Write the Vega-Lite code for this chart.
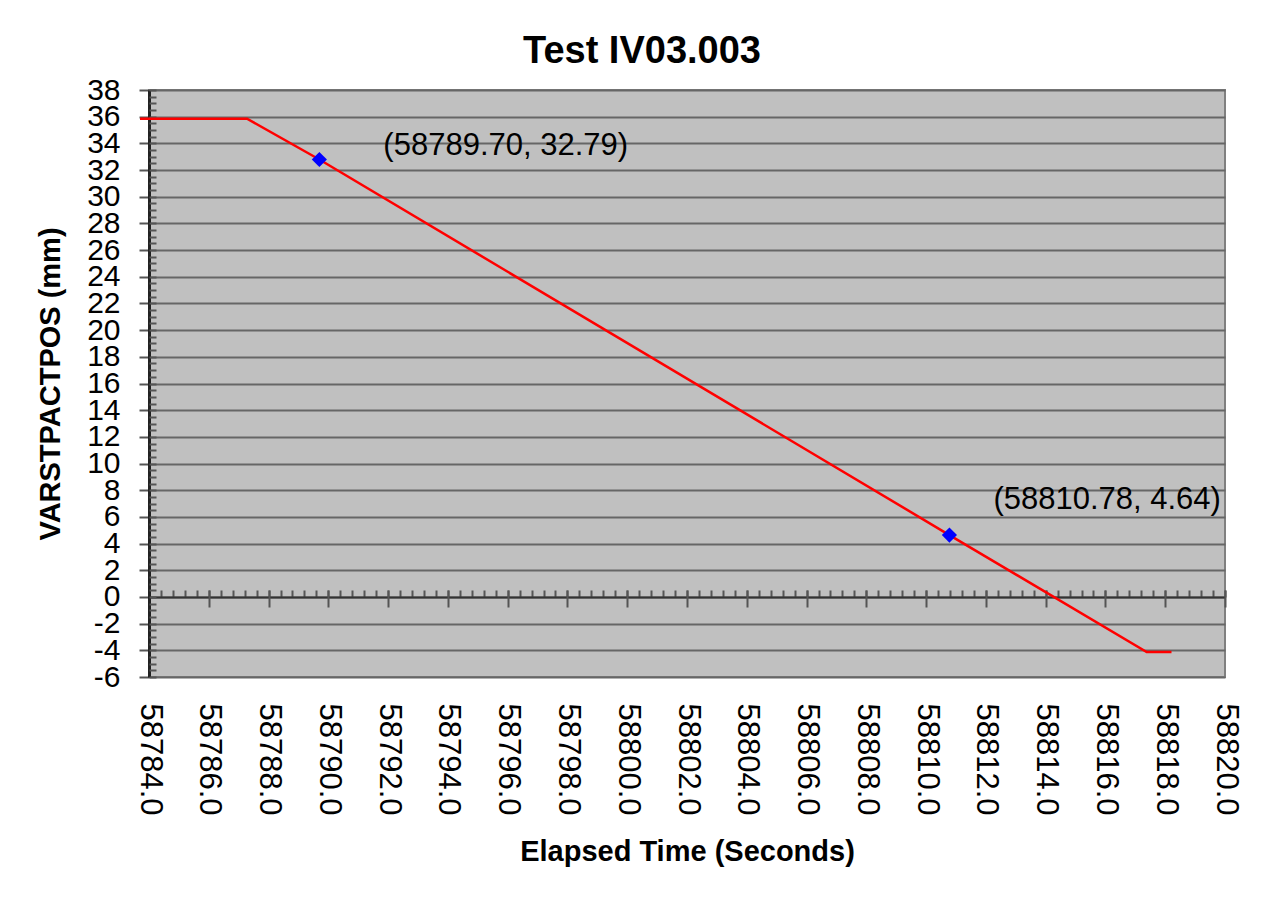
{
  "$schema": "https://vega.github.io/schema/vega-lite/v6.json",
  "width": 1076,
  "height": 587,
  "autosize": {"type": "none"},
  "padding": {"left": 149, "top": 90, "right": 45, "bottom": 222},
  "background": "white",
  "config": {
    "view": {"fill": "#C0C0C0", "stroke": "#808080", "strokeWidth": 2},
    "font": "Liberation Sans"
  },
  "title": {
    "text": "Test IV03.003",
    "fontSize": 38,
    "fontWeight": "bold",
    "font": "Liberation Sans",
    "color": "black",
    "anchor": "middle",
    "frame": "group",
    "dx": -45,
    "offset": 4
  },
  "datasets": {
    "series": [
      {"t": 58783.7, "v": 35.85},
      {"t": 58787.28, "v": 35.85},
      {"t": 58789.70, "v": 32.79},
      {"t": 58810.78, "v": 4.64},
      {"t": 58817.38, "v": -4.13},
      {"t": 58818.21, "v": -4.13}
    ],
    "marks": [
      {"t": 58789.70, "v": 32.79, "label": "(58789.70, 32.79)"},
      {"t": 58810.78, "v": 4.64, "label": "(58810.78, 4.64)"}
    ]
  },
  "layer": [
    {
      "data": {"name": "series"},
      "mark": {"type": "line", "color": "#FF0000", "strokeWidth": 2.5},
      "encoding": {
        "x": {
          "field": "t", "type": "quantitative",
          "scale": {"domain": [58784, 58820], "nice": false, "zero": false},
          "axis": {
            "orient": "bottom",
            "values": [58784,58786,58788,58790,58792,58794,58796,58798,58800,58802,58804,58806,58808,58810,58812,58814,58816,58818,58820],
            "format": ".1f",
            "labelAngle": 90,
            "labelAlign": "left",
            "labelBaseline": "middle",
            "labelFontSize": 31,
            "labelColor": "black",
            "labelPadding": 26,
            "labelOverlap": false,
            "labelBound": false,
            "labelFlush": false,
            "ticks": false,
            "tickSize": 0,
            "domain": false,
            "grid": false,
            "title": "Elapsed Time (Seconds)",
            "titleFontSize": 29,
            "titleFontWeight": "bold",
            "titleColor": "black",
            "titlePadding": 22
          }
        },
        "y": {
          "field": "v", "type": "quantitative",
          "scale": {"domain": [-6, 38], "nice": false, "zero": false},
          "axis": {
            "orient": "left",
            "values": [-6,-4,-2,0,2,4,6,8,10,12,14,16,18,20,22,24,26,28,30,32,34,36,38],
            "labelExpr": "datum.value < 0 ? '-' + abs(datum.value) : '' + datum.value",
            "labelFontSize": 30,
            "labelColor": "black",
            "labelPadding": 19,
            "labelOverlap": false,
            "labelBound": false,
            "labelFlush": false,
            "tickSize": 10,
            "tickColor": "#555555",
            "tickWidth": 2,
            "domain": true,
            "domainColor": "#222222",
            "domainWidth": 3,
            "grid": true,
            "gridColor": "#666666",
            "gridWidth": 2,
            "title": "VARSTPACTPOS (mm)",
            "titleFontSize": 29,
            "titleFontWeight": "bold",
            "titleColor": "black",
            "titlePadding": 21
          }
        }
      }
    },
    {
      "data": {"name": "marks"},
      "mark": {"type": "point", "shape": "diamond", "filled": true, "color": "#0000FF", "size": 230, "opacity": 1},
      "encoding": {
        "x": {
          "field": "t", "type": "quantitative",
          "scale": {"domain": [58784, 58820], "nice": false, "zero": false},
          "axis": {
            "orient": "bottom",
            "offset": -80,
            "values": [58784,58784.4,58784.8,58785.2,58785.6,58786,58786.4,58786.8,58787.2,58787.6,58788,58788.4,58788.8,58789.2,58789.6,58790,58790.4,58790.8,58791.2,58791.6,58792,58792.4,58792.8,58793.2,58793.6,58794,58794.4,58794.8,58795.2,58795.6,58796,58796.4,58796.8,58797.2,58797.6,58798,58798.4,58798.8,58799.2,58799.6,58800,58800.4,58800.8,58801.2,58801.6,58802,58802.4,58802.8,58803.2,58803.6,58804,58804.4,58804.8,58805.2,58805.6,58806,58806.4,58806.8,58807.2,58807.6,58808,58808.4,58808.8,58809.2,58809.6,58810,58810.4,58810.8,58811.2,58811.6,58812,58812.4,58812.8,58813.2,58813.6,58814,58814.4,58814.8,58815.2,58815.6,58816,58816.4,58816.8,58817.2,58817.6,58818,58818.4,58818.8,58819.2,58819.6,58820],
            "labels": false,
            "domain": true,
            "domainColor": "#333333",
            "domainWidth": 2,
            "ticks": true,
            "tickSize": -7,
            "tickColor": "#555555",
            "tickWidth": 2,
            "grid": false,
            "title": null
          }
        },
        "y": {
          "field": "v", "type": "quantitative",
          "scale": {"domain": [-6, 38], "nice": false, "zero": false},
          "axis": {
            "orient": "left",
            "values": [-6,-5.5,-5,-4.5,-4,-3.5,-3,-2.5,-2,-1.5,-1,-0.5,0,0.5,1,1.5,2,2.5,3,3.5,4,4.5,5,5.5,6,6.5,7,7.5,8,8.5,9,9.5,10,10.5,11,11.5,12,12.5,13,13.5,14,14.5,15,15.5,16,16.5,17,17.5,18,18.5,19,19.5,20,20.5,21,21.5,22,22.5,23,23.5,24,24.5,25,25.5,26,26.5,27,27.5,28,28.5,29,29.5,30,30.5,31,31.5,32,32.5,33,33.5,34,34.5,35,35.5,36,36.5,37,37.5,38],
            "labels": false,
            "domain": false,
            "grid": false,
            "ticks": true,
            "tickSize": -7,
            "tickColor": "#555555",
            "tickWidth": 2,
            "title": null
          }
        }
      }
    },
    {
      "data": {"name": "marks"},
      "transform": [{"filter": "datum.t < 58800"}],
      "mark": {"type": "text", "align": "left", "baseline": "middle", "dx": 64, "dy": -14, "fontSize": 31, "color": "black", "font": "Liberation Sans"},
      "encoding": {
        "x": {
          "field": "t", "type": "quantitative",
          "scale": {"domain": [58784, 58820], "nice": false, "zero": false},
          "axis": {
            "orient": "bottom",
            "offset": -87,
            "values": [58784,58786,58788,58790,58792,58794,58796,58798,58800,58802,58804,58806,58808,58810,58812,58814,58816,58818,58820],
            "labels": false,
            "domain": false,
            "ticks": true,
            "tickSize": 17,
            "tickColor": "#555555",
            "tickWidth": 2,
            "grid": false,
            "title": null
          }
        },
        "y": {
          "field": "v", "type": "quantitative",
          "scale": {"domain": [-6, 38], "nice": false, "zero": false},
          "axis": null
        },
        "text": {"field": "label", "type": "nominal"}
      }
    },
    {
      "data": {"name": "marks"},
      "transform": [{"filter": "datum.t > 58800"}],
      "mark": {"type": "text", "align": "left", "baseline": "middle", "dx": 44, "dy": -35, "fontSize": 31, "color": "black", "font": "Liberation Sans"},
      "encoding": {
        "x": {
          "field": "t", "type": "quantitative",
          "scale": {"domain": [58784, 58820], "nice": false, "zero": false},
          "axis": null
        },
        "y": {
          "field": "v", "type": "quantitative",
          "scale": {"domain": [-6, 38], "nice": false, "zero": false},
          "axis": null
        },
        "text": {"field": "label", "type": "nominal"}
      }
    }
  ],
  "resolve": {"axis": {"x": "independent", "y": "independent"}}
}
